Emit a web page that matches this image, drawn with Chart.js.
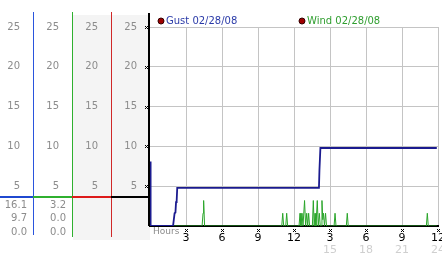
<!DOCTYPE html>
<html lang="en">
<head>
<meta charset="UTF-8">
<title>Gust / Wind 02/28/08</title>
<script src="https://cdn.jsdelivr.net/npm/chart.js@4"></script>
<style>
  html, body { margin: 0; padding: 0; background: #fff; }
  #wrap { width: 442px; height: 253px; }
</style>
</head>
<body>
<div id="wrap"><canvas id="windChart" width="442" height="253"></canvas></div>
<script>
// readings, x = hours since midnight
const gustHours  = [0, 0.05, 1.92, 2.05, 2.12, 2.17, 2.22, 2.27, 14.08, 14.12, 14.2, 23.9];
const gustValues = [8.1, 0, 0, 1.6, 1.7, 3.0, 3.1, 4.8, 4.8, 7.0, 9.8, 9.8];

const windHours  = [0, 4.34, 4.42, 4.47, 4.55, 10.98, 11.06, 11.14, 11.31, 11.39, 11.47,
                    12.42, 12.5, 12.58, 12.67, 12.75, 12.88, 12.97, 13.06, 13.14, 13.22, 13.3,
                    13.53, 13.61, 13.68, 13.75, 13.83, 13.94, 14.02, 14.11, 14.19, 14.25, 14.33,
                    14.4, 14.46, 14.54, 14.63, 14.71, 15.34, 15.42, 15.5, 16.36, 16.44, 16.52,
                    23.03, 23.11, 23.19, 23.9];
const windValues = [0, 0, 1.6, 3.2, 0, 0, 1.6, 0, 0, 1.6, 0,
                    0, 1.6, 0, 1.6, 0, 3.2, 0, 1.6, 0, 1.6, 0,
                    0, 3.2, 0, 1.6, 0, 3.2, 0, 1.6, 0, 0, 3.2,
                    0.8, 1.6, 0, 1.6, 0, 0, 1.6, 0, 0, 1.6, 0,
                    0, 1.6, 0, 0];

const seriesNames = ['Gust 02/28/08', 'Wind 02/28/08'];
const gustStats = ['16.1', '9.7', '0.0'];
const windStats = ['3.2', '0.0', '0.0'];

const yTicks = [5, 10, 15, 20, 25];
const hourTicks = [3, 6, 9, 12, 15, 18, 21, 24];
const hourLabels = ['3', '6', '9', '12', '3', '6', '9', '12'];
const hourLabels24 = ['', '', '', '', '15', '18', '21', '24'];

const GUST = '#1b1b8f', WIND = '#2aa52a';
const GREY_TXT = '#8c8c8c';

Chart.defaults.font.family = 'DejaVu Sans';

function sideAxis(width, weight, grid) {
    return {
        position: 'left', weight: weight, min: 0, max: 25,
        afterBuildTicks: s => { s.ticks = yTicks.map(v => ({ value: v })); },
        afterFit: s => { s.width = width; },
        grid: grid ? { color: '#c4c4c4', drawTicks: false } : { display: false, drawTicks: false },
        border: { display: false },
        ticks: { color: GREY_TXT, padding: 13, font: { size: 10 } }
    };
}

function hourAxis(labels, height, color, padding, main) {
    return {
        type: 'linear', position: 'bottom', min: 0, max: 24,
        afterBuildTicks: s => { s.ticks = hourTicks.map(v => ({ value: v })); },
        afterFit: s => { s.height = height; s.paddingLeft = 0; s.paddingRight = 0; },
        grid: main ? { color: '#c4c4c4', drawTicks: false } : { display: false, drawTicks: false },
        border: main ? { color: '#000', width: 2 } : { display: false },
        ticks: {
            color: color, padding: padding, font: { size: 11 },
            maxRotation: 0, autoSkip: false,
            callback: (v, i) => labels[i]
        }
    };
}

// side panel, legend and little tick marks
const decor = {
    id: 'decor',
    beforeDraw(chart) {
        const { ctx, chartArea: a, scales: s } = chart;
        ctx.save();
        ctx.fillStyle = '#f4f4f4';
        ctx.fillRect(s.c2.right + 1, a.top - 12, a.left - s.c2.right - 1, a.bottom + 14 - (a.top - 12));
        ctx.restore();
    },
    beforeDatasetsDraw(chart) {
        const { ctx, chartArea: a, scales: s } = chart;
        ctx.save();
        const vline = (x, y0, y1, col, w) => {
            ctx.strokeStyle = col; ctx.lineWidth = w;
            ctx.beginPath(); ctx.moveTo(x, y0); ctx.lineTo(x, y1); ctx.stroke();
        };
        vline(s.c1.right + 0.5, a.top - 15, a.bottom + 9, '#2a55dd', 1);
        vline(s.c2.right + 0.5, a.top - 15, a.bottom + 11, '#2fb02f', 1);
        vline(s.c3.right + 0.5, a.top - 15, a.bottom + 11, '#d02828', 1);
        vline(a.left - 1, a.top - 14, a.bottom, '#000', 2);

        // divider across the side panel
        const dy = a.bottom - 29;
        [[0, s.c1.right, '#1f48d0'], [s.c1.right, s.c2.right, '#2fb02f'],
         [s.c2.right, s.c3.right, '#dd1a1a'], [s.c3.right, a.left - 1, '#000']].forEach(([x0, x1, c]) => {
            ctx.strokeStyle = c; ctx.lineWidth = 2;
            ctx.beginPath(); ctx.moveTo(x0, dy); ctx.lineTo(x1, dy); ctx.stroke();
        });

        ctx.font = '10px "DejaVu Sans"';
        ctx.fillStyle = GREY_TXT;
        ctx.textAlign = 'right';
        ctx.textBaseline = 'middle';
        [-21, -8, 6].forEach((off, i) => {
            ctx.fillText(gustStats[i], s.c1.right - 6, a.bottom + off);
            ctx.fillText(windStats[i], s.c2.right - 6, a.bottom + off);
        });

        // small x marks on ticks
        ctx.fillStyle = '#000';
        const mark = (x, y) => {
            x = Math.round(x); y = Math.round(y);
            [[-1, -1], [1, -1], [0, 0], [-1, 1], [1, 1]].forEach(([dx, dy2]) => ctx.fillRect(x + dx, y + dy2, 1, 1));
        };
        yTicks.forEach(v => mark(a.left - 4, s.y.getPixelForValue(v)));
        hourTicks.forEach(h => mark(s.x.getPixelForValue(h), a.bottom + 4));

        ctx.font = '9px "DejaVu Sans"';
        ctx.fillStyle = GREY_TXT;
        ctx.textAlign = 'left';
        ctx.fillText('Hours', a.left + 3, a.bottom + 6);

        // legend
        ctx.font = '10px "DejaVu Sans"';
        const half = (a.right - a.left) / 2;
        [['#2a3aa8', 0], ['#2f9e2f', 1]].forEach(([col, i]) => {
            const x = a.left + 11 + i * (half - 3);
            const y = a.top - 6;
            ctx.fillStyle = '#a00000';
            ctx.strokeStyle = '#300';
            ctx.lineWidth = 1;
            ctx.beginPath(); ctx.arc(x, y, 3, 0, Math.PI * 2); ctx.fill(); ctx.stroke();
            ctx.fillStyle = col;
            ctx.fillText(seriesNames[i], x + 5, y);
        });
        ctx.restore();
    }
};

new Chart(document.getElementById('windChart'), {
    type: 'line',
    data: {
        datasets: [
            {
                label: seriesNames[0],
                data: gustHours.map((h, i) => ({ x: h, y: gustValues[i] })),
                borderColor: GUST, borderWidth: 1.8,
                pointRadius: 0, tension: 0, fill: false
            },
            {
                label: seriesNames[1],
                data: windHours.map((h, i) => ({ x: h, y: windValues[i] })),
                borderColor: WIND, borderWidth: 1,
                pointRadius: 0, tension: 0, fill: false
            }
        ]
    },
    options: {
        responsive: false,
        animation: false,
        layout: { padding: { top: 27, right: 4, bottom: 0, left: 0 } },
        plugins: { legend: { display: false }, tooltip: { enabled: false } },
        scales: {
            x: hourAxis(hourLabels, 17, '#000', 6, true),
            x2: hourAxis(hourLabels24, 10, '#cfcfcf', 1, false),
            c1: sideAxis(33, 4, false),
            c2: sideAxis(39, 3, false),
            c3: sideAxis(39, 2, false),
            y: sideAxis(39, 1, true)
        }
    },
    plugins: [decor]
});
</script>
</body>
</html>
